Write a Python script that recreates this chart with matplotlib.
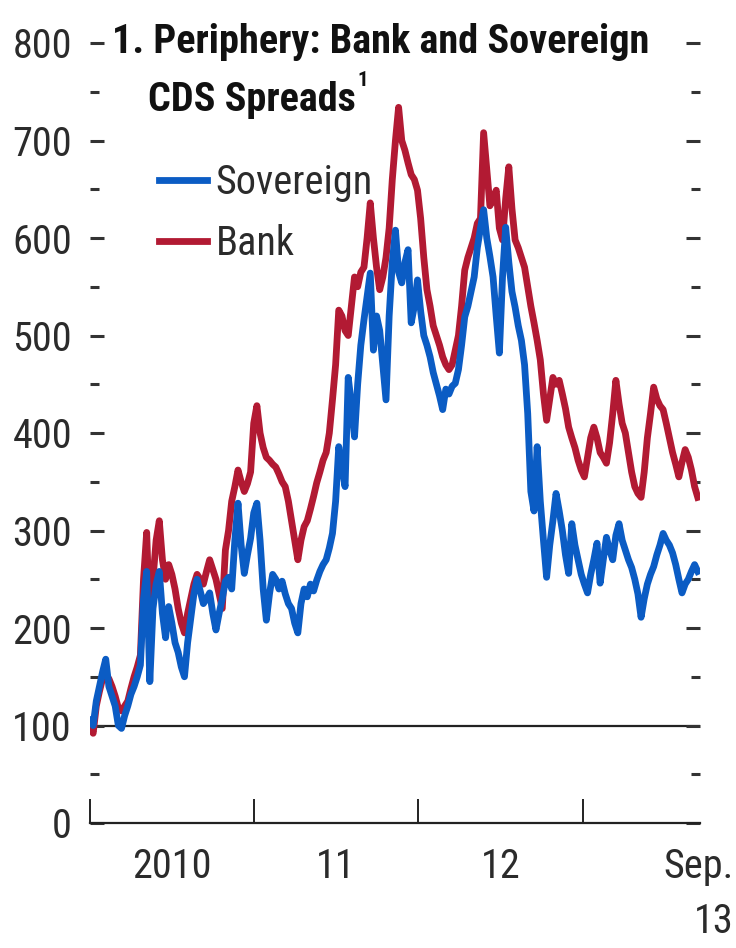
import matplotlib
matplotlib.use("Agg")
import matplotlib.pyplot as plt
import matplotlib.dates as mdates
from matplotlib import font_manager
import pandas as pd
from matplotlib.ticker import MultipleLocator

# pick a condensed grotesque that has both regular and bold faces
weights = {}
for f in font_manager.fontManager.ttflist:
    w = f.weight if isinstance(f.weight, int) else 400
    weights.setdefault(f.name, set()).add(w)
cond = "Liberation Sans"
for name in ["Roboto Condensed", "Archivo Narrow", "PT Sans Narrow",
             "Fira Sans Condensed", "IBM Plex Sans Condensed", "Asap Condensed"]:
    ws = weights.get(name, set())
    if 400 in ws and any(w >= 700 for w in ws):
        cond = name
        break
plt.rcParams['font.family'] = [cond, 'Liberation Sans', 'DejaVu Sans']

# weekly observations, first week of Jan 2010 to mid Sep 2013
dates = pd.date_range("2010-01-01", periods=194, freq="7D")

sovereign = [
    105, 100, 125, 140, 155, 168, 140, 130, 120, 100,
    97, 110, 120, 132, 140, 150, 162, 230, 258, 145,
    220, 245, 258, 215, 190, 222, 205, 185, 175, 160,
    150, 185, 210, 235, 250, 238, 225, 230, 236, 215,
    198, 215, 230, 248, 252, 240, 290, 328, 285, 256,
    275, 292, 318, 328, 290, 240, 208, 235, 255, 250,
    240, 248, 235, 225, 220, 205, 195, 225, 240, 232,
    245, 238, 249, 258, 265, 270, 282, 297, 330, 386,
    365, 345, 457, 430, 396, 450, 490, 516, 540, 564,
    485, 520, 505, 470, 434, 520, 575, 608, 565, 554,
    575, 588, 513, 530, 557, 525, 500, 490, 478, 462,
    450, 438, 424, 445, 440, 448, 451, 465, 490, 519,
    530, 545, 560, 590, 610, 629, 600, 581, 560, 520,
    482, 560, 611, 575, 545, 529, 510, 495, 470, 420,
    340, 320, 386, 330, 290, 252, 285, 310, 338, 320,
    300, 275, 256, 307, 285, 270, 255, 245, 236, 255,
    270, 287, 246, 270, 293, 280, 270, 295, 307, 290,
    280, 270, 262, 250, 235, 211, 230, 245, 255, 263,
    275, 285, 297, 290, 285, 277, 265, 250, 236, 245,
    250, 258, 265, 258,
]

bank = [
    100, 92, 120, 135, 148, 150, 148, 140, 130, 118,
    115, 120, 125, 138, 150, 160, 172, 250, 298, 200,
    250, 290, 310, 270, 250, 265, 255, 240, 220, 205,
    195, 215, 230, 245, 255, 250, 245, 258, 270, 260,
    250, 235, 220, 280, 300, 330, 345, 362, 350, 340,
    348, 360, 410, 428, 400, 385, 375, 372, 368, 365,
    358, 350, 345, 330, 310, 290, 270, 290, 304, 310,
    322, 335, 349, 360, 372, 380, 400, 434, 470, 526,
    520, 505, 500, 530, 560, 550, 565, 570, 600, 636,
    600, 570, 547, 560, 580, 610, 660, 700, 734, 700,
    690, 677, 665, 660, 649, 620, 580, 547, 530, 510,
    500, 490, 478, 470, 465, 470, 485, 500, 530, 567,
    580, 590, 600, 615, 620, 708, 670, 633, 640, 649,
    610, 598, 640, 673, 630, 598, 590, 580, 570, 550,
    530, 513, 495, 475, 440, 413, 435, 457, 450, 454,
    440, 425, 406, 395, 385, 372, 362, 355, 375, 395,
    406, 395, 380, 375, 369, 390, 420, 454, 430, 410,
    400, 380, 360, 345, 338, 334, 360, 395, 420, 447,
    435, 428, 424, 410, 395, 380, 368, 355, 370, 383,
    375, 362, 345, 334,
]

year_ticks = ["2010-01-01", "2011-01-01", "2012-01-01", "2013-01-01"]
year_labels = ["2010", "11", "12"]
label_pos = ["2010-07-02", "2011-07-02", "2012-07-02"]

blue = "#0b5cc4"
red = "#b21a33"
txt = "#2b2b2b"

fig = plt.figure(figsize=(7.36, 9.48), dpi=100)
ax = fig.add_axes([90/736, 1 - 823/948, (700 - 90)/736, (823 - 43)/948])

ax.plot(dates, bank, color=red, lw=4.9, solid_joinstyle='round', label="Bank")
ax.plot(dates, sovereign, color=blue, lw=4.9, solid_joinstyle='round', label="Sovereign")
ax.axhline(100, color="#222222", lw=1.6, zorder=1)

ax.set_ylim(0, 800)
ax.set_xlim(pd.Timestamp("2010-01-01"), pd.Timestamp("2013-09-18"))

for s in ["left", "right", "top"]:
    ax.spines[s].set_visible(False)
ax.spines["bottom"].set_color("#222222")
ax.spines["bottom"].set_linewidth(1.6)

ax.yaxis.set_major_locator(MultipleLocator(100))
ax.yaxis.set_minor_locator(MultipleLocator(50))
ax.tick_params(axis="y", which="major", direction="in", length=10, width=2.2,
               color="#333333", left=True, right=True, labelsize=29,
               labelcolor=txt, pad=13)
ax.tick_params(axis="y", which="minor", direction="in", length=6.5, width=2.2,
               color="#333333", left=True, right=True)

ax.set_xticks(pd.to_datetime(year_ticks))
ax.set_xticklabels([])
ax.tick_params(axis="x", which="major", direction="in", length=17, width=1.4,
               color="#222222")
ax.xaxis.set_minor_locator(mdates.YearLocator())
ax.tick_params(axis="x", which="minor", length=0)

for d, lab in zip(label_pos, year_labels):
    ax.text(pd.Timestamp(d), -45, lab, ha="center", va="center",
            fontsize=29, color=txt, clip_on=False)
ax.text(1.055, -45, "Sep.", transform=ax.get_yaxis_transform(), ha="right",
        va="center", fontsize=29, color=txt, clip_on=False)
ax.text(1.055, -101, "13", transform=ax.get_yaxis_transform(), ha="right",
        va="center", fontsize=29, color=txt, clip_on=False)

fig.text(112/736, 1 - 42/948, "1. Periphery: Bank and Sovereign", fontsize=29,
         fontweight="bold", ha="left", va="center", color="#111111")
fig.text(148/736, 1 - 100/948, "CDS Spreads", fontsize=29,
         fontweight="bold", ha="left", va="center", color="#111111")
fig.text(357/736, 1 - 80/948, "1", fontsize=15,
         fontweight="bold", ha="left", va="center", color="#111111")

handles, labels = ax.get_legend_handles_labels()
leg = ax.legend(handles[::-1], labels[::-1], loc="upper left",
                bbox_to_anchor=(53/610, 1 - 104/780), frameon=False,
                fontsize=29, handlelength=1.2, handletextpad=0.2,
                labelspacing=0.55, borderaxespad=0)
for t in leg.get_texts():
    t.set_color(txt)

fig.savefig("out.png", dpi=100)
